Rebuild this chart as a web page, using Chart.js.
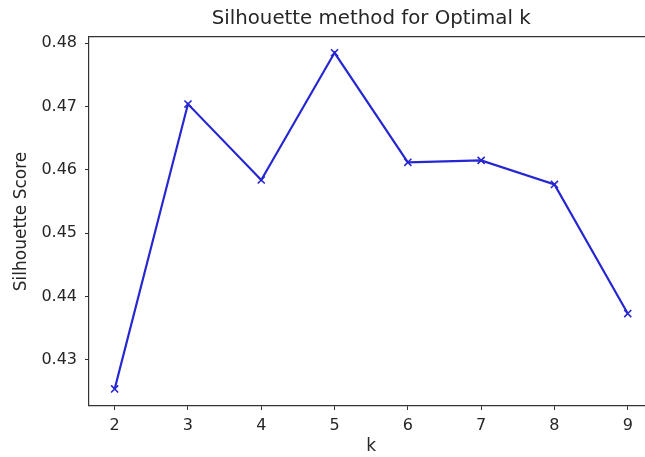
<!DOCTYPE html>
<html>
<head>
<meta charset="utf-8">
<script src="https://cdn.jsdelivr.net/npm/chart.js@4/dist/chart.umd.min.js"></script>
<style>
  html, body { margin: 0; padding: 0; background: #fff; overflow: hidden; }
  #wrap { width: 660px; height: 457px; }
</style>
</head>
<body>
<div id="wrap"><canvas id="c" width="660" height="457"></canvas></div>
<script>
const kValues = [2, 3, 4, 5, 6, 7, 8, 9];
const silhouetteScores = [0.4254, 0.4704, 0.4584, 0.4785, 0.4612, 0.4615, 0.4577, 0.4373];
const xTickValues = [2, 3, 4, 5, 6, 7, 8, 9];
const yTickValues = [0.43, 0.44, 0.45, 0.46, 0.47, 0.48];

const textColor = '#262626';
const fontFamily = '"DejaVu Sans", sans-serif';

const points = kValues.map((k, i) => ({ x: k, y: silhouetteScores[i] }));

new Chart(document.getElementById('c'), {
  type: 'line',
  data: {
    datasets: [{
      data: points,
      borderColor: 'rgb(38,38,210)',
      backgroundColor: 'rgb(38,38,210)',
      borderWidth: 2.2,
      pointStyle: 'crossRot',
      pointRadius: 5,
      pointBorderWidth: 1.6,
      pointHoverRadius: 5,
      tension: 0,
      fill: false
    }]
  },
  options: {
    responsive: false,
    animation: false,
    layout: { padding: { left: 0, right: 6, top: 0, bottom: 0 } },
    plugins: {
      legend: { display: false },
      tooltip: { enabled: false },
      title: {
        display: true,
        fullSize: false,
        text: 'Silhouette method for Optimal k',
        color: textColor,
        font: { family: fontFamily, size: 19.8, weight: 'normal' },
        padding: { top: 7, bottom: 6.2 }
      }
    },
    scales: {
      x: {
        type: 'linear',
        min: 1.65,
        max: 9.35,
        afterBuildTicks: (s) => { s.ticks = xTickValues.map(v => ({ value: v })); },
        afterFit: (s) => { s.height = 51; },
        grid: { display: true, drawOnChartArea: false, drawTicks: true, tickLength: 4, color: '#333', tickWidth: 1 },
        border: { display: true, color: '#333', width: 1.2 },
        ticks: { color: textColor, font: { family: fontFamily, size: 16 }, padding: 6, maxRotation: 0 },
        title: { display: true, text: 'k', color: textColor, font: { family: fontFamily, size: 17 }, padding: { top: 0, bottom: 0 } }
      },
      xTop: {
        type: 'linear',
        position: 'top',
        min: 1.65,
        max: 9.35,
        grid: { display: false },
        ticks: { display: false },
        border: { display: true, color: '#333', width: 1.2 },
        afterFit: (s) => { s.height = 0; }
      },
      y: {
        type: 'linear',
        min: 0.4227,
        max: 0.4810,
        afterBuildTicks: (s) => { s.ticks = yTickValues.map(v => ({ value: v })); },
        afterFit: (s) => { s.width = 89; },
        grid: { display: true, drawOnChartArea: false, drawTicks: true, tickLength: 4, color: '#333', tickWidth: 1 },
        border: { display: true, color: '#333', width: 1.2 },
        ticks: { color: textColor, font: { family: fontFamily, size: 16 }, padding: 8, callback: (v) => v.toFixed(2) },
        title: { display: true, text: 'Silhouette Score', color: textColor, font: { family: fontFamily, size: 17 }, padding: { top: 11, bottom: 0 } }
      }
    }
  }
});
</script>
</body>
</html>
